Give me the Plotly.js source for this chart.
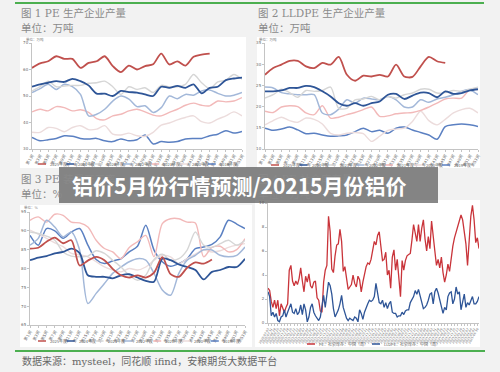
<!DOCTYPE html>
<html>
<head>
<meta charset="utf-8">
<script src="https://cdn.plot.ly/plotly-3.0.1.min.js"></script>
<style>html,body{margin:0;padding:0;background:#f2f2f2;}#chart{width:500px;height:372px;}</style>
</head>
<body>
<div id="chart"></div>
<script>
// ---------- data ----------
const seriesNames = ['2025年度','2024年度','2023年度','2022年度','2021年度','2020年度','2019年度'];
const weekCats = ['第1周','第3周','第5周','第7周','第9周','第11周','第13周','第15周','第17周','第19周','第21周','第23周','第25周','第27周','第29周','第31周','第33周','第35周','第37周','第39周','第41周','第43周','第45周','第47周','第49周','第51周','第53周'];

// 图1 PE 生产企业产量 (万吨)
const p1_2025 = [60.6,62.3,63.1,65,64,64,60.6,62.5,63.1,65,61.3,59,61.5,60,61.3,62,66,61.9,63.1,61.5,64.8,65.6,66];
const p1_2024 = [53.5,54.4,55,55.6,55.3,56.5,55.6,54,50.9,50.9,50,51.9,51.5,51.3,50.6,50,53.5,53.1,53.8,53.1,54.4,51,53.1,53.5,56,56.6,56.9];
const p1_2023 = [51.9,53.5,55.6,53.5,53.8,54,54,54.8,55,55.6,53.5,50.6,53.5,52.5,53.1,51.3,54,53.5,53.5,54.4,58.1,55,52.8,55.3,56,58.1,56.3];
const p1_2022 = [51.3,52.8,54.4,52.5,54.4,53.5,50.6,42.5,43.1,45,48.1,50,48.8,46,46.3,43.8,45.6,50,49,50.6,50.3,51.9,52.3,51,50,50.3,51.3];
const p1_2021 = [44,45,44.4,46,45.6,44.4,44.8,43.8,41.5,41,42.5,43.1,44.4,45,44,42.8,42.5,43.8,45,46.5,47.3,46.5,46.3,48.1,47.8,48.1,49.4];
const p1_2020 = [36.3,36.3,38.1,37.8,36.5,38.1,38.8,37.3,37.5,38.8,35.6,35.3,36,35,34.8,36.3,39,39.8,41,41.9,42.5,40.3,39.8,41.3,42.5,44,42.5];
const p1_2019 = [34.4,33.1,33.5,34,35,34.8,34,33.8,34,33.1,32.8,33.8,33.1,33.5,35.3,31.9,32.8,32.5,32.8,33.8,34,34,35,35.6,36.9,36,36.6];

// 图2 LLDPE 生产企业产量 (万吨)
const p2_2025 = [27.5,29.1,29.9,30.8,30.8,29.5,29.1,30.3,29.9,31.7,27.5,26.1,27.3,27.1,27.5,27.1,29.9,27.1,27,29.5,31.7,30.7,30.3];
const p2_2024 = [23.6,23.6,23.8,24.4,24.4,24.9,24.6,23.6,22.4,20.8,20.2,20.8,20.2,20.8,21.2,22.8,23,21.8,22.6,23.3,23.2,22.2,23.6,23,23.2,23.8,24.1];
const p2_2023 = [22,22.8,24.1,23.3,22.2,23.8,23.6,23.8,24.6,19.6,19.6,21.6,21.8,22.4,21.6,22.4,22,22.8,23.2,24.1,24.1,23.2,23.3,23.8,23.6,24.1,24.6];
const p2_2022 = [24.6,24.4,23.3,23,22.8,22.8,22.8,18.5,18.1,19.4,21.6,20.8,22,21.8,21.6,22.4,21.6,19.9,19.9,21.6,21,21.8,22.2,22.8,23.6,24,22.8];
const p2_2021 = [18.9,18.6,19.9,20.2,20,18.5,18.1,20.2,17.3,17.5,18.1,18.6,19.3,19.9,17.7,17.8,18.3,18.5,18.6,19.1,19.9,20.8,21.8,22,22,24,24];
const p2_2020 = [15.7,16.7,17.5,16.7,16.3,17.3,17,15.9,13.7,13.3,13.7,13.9,13.6,11.8,13,14.4,14.7,14.9,16.5,18.9,16.7,15.7,17,18.5,19.3,19.6,18.5];
const p2_2019 = [14.9,14.4,14.7,15.2,14.5,13.6,13.7,13.3,13,13.1,13.3,14.1,14.9,14.1,14.4,13.7,14.9,15.2,14.5,13.9,13.3,12.3,15.3,15.7,15.9,15.7,15.3];

// 图3 PE 装置开工率 (%)
const p3_2025 = [85.3,85.5,87.1,88.2,86.7,87.5,80.8,82.1,83.1,82.2,79.9,78.2,77.6,78.2,77.6,78.9,83,78.5,77.8,80.2,81.6,81.3,82.4];
const p3_2024 = [82.2,82.9,83.3,84,84.4,85.3,84.1,78.2,77.8,77.8,77.4,78.2,78.5,77.6,76.7,76.5,82.6,82.2,81.1,80.4,79.6,77.1,79.1,79.6,80.4,80.4,82.6];
const p3_2023 = [89.7,89.3,88.6,87.5,84.4,83.3,83.1,83.3,84.7,84,82.2,80.4,78.2,76.9,78.2,82.4,83.8,82.2,82.6,84.9,89.7,86.2,85.6,86.6,87.5,86.2,87.5];
const p3_2022 = [86.2,88,92.8,91,88.4,89.7,84.9,70.7,73.4,76,78.7,80.4,81.8,82.6,82.2,78.7,74.3,72.9,78.7,82.2,83.5,85,84.9,83.5,83.1,83.5,85.7];
const p3_2021 = [92.8,93.7,92.3,94.4,94.1,92.3,92.1,91,87.5,85.3,84.4,82.6,85.6,87.1,88.8,83.1,91.9,93.2,93.2,92.3,92.1,83.1,85.6,85.9,84.4,85,87.9];
const p3_2020 = [90.2,89.1,88,86.8,85.8,84,83.6,83.1,81.8,80.4,79.6,79.1,80,79.6,80.4,82.2,83.5,83.1,81.3,82.6,83.8,84.9,84.4,84.7,85.6,86.2,86.6];
const p3_2019 = [88.8,86.2,90.6,90,88,89.7,90.6,86.2,82.4,81.3,82,82.6,84.4,85.9,91.5,84.9,81.8,80.6,81.3,82.6,85.3,85.7,86.4,88.4,92.8,91.8,90.6];

// 图4 库存 (万吨), biweekly
const p4Names = ['PE：社会库存：中国（周）','LLDPE：社会库存：中国（周）'];
const p4_pe = [2.9,2.7,1.8,1.3,1.9,1.2,1.9,0.6,1.6,1.3,0.9,1.3,1.6,4.4,4.8,3.5,3.1,3.5,3.2,3.7,4.6,3.5,2.6,3.9,3.4,4.1,3.1,2.9,3.4,3.5,2.1,1.9,1.0,0.9,3.4,4.4,4.8,8.9,7.6,4.5,4.2,5.6,6.5,6.6,7.8,6.8,4.3,4.7,3.8,2.8,3.0,3.2,4.0,3.3,3.0,3.9,3.6,2.6,3.4,4.0,4.7,5.0,4.9,5.3,6.2,6.8,6.5,7.3,7.6,6.2,5.2,5.3,5.9,4.0,4.4,2.9,5.5,6.1,4.4,5.3,4.0,2.2,5.2,4.4,5.2,5.6,5.7,5.8,6.9,8.2,7.5,6.8,8.2,6.8,7.9,8.6,7.0,6.0,7.2,6.2,8.5,6.9,6.0,4.8,5.3,4.6,5.5,4.2,3.4,4.0,4.9,4.3,5.5,6.4,7.1,7.6,8.0,8.5,9.0,8.6,7.5,6.6,4.8,6.8,8.9,9.8,8.6,6.7,7.1,6.2];
const p4_lldpe = [2.6,2.2,0.6,0.9,0.5,0.8,0.2,0.1,0.5,0.6,1.1,0.5,0.9,1.2,1.6,0.9,0.8,1.2,0.7,0.9,1.5,0.7,1.6,1.1,0.1,0.5,1.3,1.6,0.9,0.6,0.4,0.2,0.5,1.3,2.3,1.3,2.6,3.4,3.1,2.4,1.2,0.5,0.8,1.1,1.6,2.3,1.3,0.9,0.4,0.2,0.4,0.3,0.2,0.5,0.4,0.1,1.1,0.8,0.3,0.9,1.3,1.6,1.9,1.8,1.9,2.2,3.3,2.4,1.7,1.6,1.9,1.3,1.7,1.2,1.6,1.8,0.9,0.8,0.8,0.5,0.6,0.6,0.9,0.7,1.0,1.1,1.1,1.7,1.9,2.2,2.7,2.4,2.8,2.2,1.6,1.2,1.3,1.5,1.9,2.4,2.5,1.6,2.6,2.9,2.5,1.9,1.3,0.8,1.3,1.1,2.2,2.5,2.6,1.6,2.0,3.0,2.4,2.6,1.1,1.9,2.4,1.3,1.7,1.5,1.9,2.2,1.6,1.6,1.8,2.2];
const p4Start = '2020-07-03';

// ---------- styling ----------
const yearColors = ['#c0504d','#2e5597','#d6d6d6','#a3b8d9','#f2b9b9','#ecdcdc','#5b80c2'];
const yearWidths = [1.8,1.8,1.4,1.5,1.4,1.4,1.5];
const W = 500, H = 372;
const px = x => x / W;
const py = y => 1 - y / H;

const traces = [];
const shapes = [];
const annotations = [];

function addYearTraces(n, arrays) {
  for (let i = arrays.length - 1; i >= 0; i--) {
    traces.push({
      type: 'scatter', mode: 'lines', name: seriesNames[i],
      x: weekCats.slice(0, arrays[i].length), y: arrays[i],
      xaxis: 'x' + (n === 1 ? '' : n), yaxis: 'y' + (n === 1 ? '' : n),
      line: {color: yearColors[i], width: yearWidths[i], shape: 'spline', smoothing: 0.8},
      showlegend: false, hoverinfo: 'skip'
    });
  }
}
addYearTraces(1, [p1_2025,p1_2024,p1_2023,p1_2022,p1_2021,p1_2020,p1_2019]);
addYearTraces(2, [p2_2025,p2_2024,p2_2023,p2_2022,p2_2021,p2_2020,p2_2019]);
addYearTraces(3, [p3_2025,p3_2024,p3_2023,p3_2022,p3_2021,p3_2020,p3_2019]);

// panel 4 date categories (biweekly)
const p4Dates = [];
{
  const d0 = new Date(p4Start + 'T00:00:00Z');
  for (let k = 0; k < p4_pe.length; k++) {
    const d = new Date(d0.getTime() + k * 14 * 86400000);
    p4Dates.push(d.toISOString().slice(0, 10));
  }
}
traces.push({type:'scatter',mode:'lines',name:p4Names[0],x:p4Dates,y:p4_pe,xaxis:'x4',yaxis:'y4',
  line:{color:'#c9343a',width:1.3},showlegend:false,hoverinfo:'skip'});
traces.push({type:'scatter',mode:'lines',name:p4Names[1],x:p4Dates,y:p4_lldpe,xaxis:'x4',yaxis:'y4',
  line:{color:'#2e5597',width:1.3},showlegend:false,hoverinfo:'skip'});

function xAx(dom, anchor, nCats) {
  return {domain: dom, anchor: anchor, type: 'category', range: [0, nCats - 1],
    tickangle: -60, tickfont: {size: 4, color: '#666', family: 'DejaVu Sans'},
    showline: true, linecolor: '#c4c4c4', linewidth: 1, ticks: 'outside', ticklen: 2, tickcolor: '#c4c4c4',
    showgrid: false, zeroline: false, fixedrange: true};
}
function yAx(dom, anchor, range, dtick) {
  return {domain: dom, anchor: anchor, range: range, tick0: range[0], dtick: dtick,
    tickfont: {size: 4, color: '#666', family: 'DejaVu Sans'},
    showline: true, linecolor: '#c4c4c4', linewidth: 1, ticks: 'outside', ticklen: 2, tickcolor: '#c4c4c4',
    showgrid: false, zeroline: false, fixedrange: true};
}

// panels (pixel boxes)
const P1 = {x0: 32, x1: 242, y0: 43, y1: 149};
const P2 = {x0: 265, x1: 478, y0: 43, y1: 149};
const P3 = {x0: 30, x1: 245, y0: 212, y1: 325};
const P4 = {x0: 268, x1: 479, y0: 203, y1: 323};
const dx = P => [px(P.x0), px(P.x1)];
const dy = P => [py(P.y1), py(P.y0)];

// white panel backgrounds
[[20,37,246,168],[257,37,480,168],[20,205,252,347],[255,200,480,347]].forEach(b => {
  shapes.push({type:'rect', xref:'paper', yref:'paper', layer:'below',
    x0:px(b[0]), x1:px(b[2]), y0:py(b[3]), y1:py(b[1]), fillcolor:'#ffffff', line:{width:0}});
});
// green rules
shapes.push({type:'line', xref:'paper', yref:'paper', x0:px(15), x1:px(484), y0:py(3), y1:py(3), line:{color:'#4caf50', width:2}});
shapes.push({type:'line', xref:'paper', yref:'paper', x0:px(15), x1:px(485), y0:py(351), y1:py(351), line:{color:'#4caf50', width:2}});

// titles
function txt(x, y, s, size, color, anchor, extra) {
  annotations.push(Object.assign({xref:'paper', yref:'paper', x:px(x), y:py(y), text:s, showarrow:false,
    xanchor: anchor || 'left', yanchor:'middle',
    font:{size:size, color:color, family:'DejaVu Serif, Noto Sans CJK SC'}}, extra || {}));
}
txt(19, 13, '图 1 PE 生产企业产量', 10.5, '#8a8a8a');
txt(19, 28, '单位：万吨', 10.5, '#8a8a8a');
txt(256, 13, '图 2 LLDPE 生产企业产量', 10.5, '#8a8a8a');
txt(256, 28, '单位：万吨', 10.5, '#8a8a8a');
txt(19, 179, '图 3 PE 装置开工率', 10.5, '#8a8a8a');
txt(19, 194, '单位：%', 10.5, '#8a8a8a');
txt(256, 179, '图 4 PE 社会库存量', 10.5, '#8a8a8a');
txt(256, 194, '单位：万吨', 10.5, '#8a8a8a');
// tiny units inside charts
txt(24, 39, '单位：万吨', 3.5, '#777');
txt(257, 39, '单位：万吨', 3.5, '#777');
txt(22, 208, '单位：%', 3.5, '#777');

// legends (manual, small)
function legend(names, colors, x0, step, y) {
  names.forEach((n, i) => {
    const x = x0 + i * step;
    shapes.push({type:'line', xref:'paper', yref:'paper', x0:px(x), x1:px(x + 8), y0:py(y), y1:py(y),
      line:{color:colors[i], width:1.5}});
    annotations.push({xref:'paper', yref:'paper', x:px(x + 10), y:py(y), text:n, showarrow:false,
      xanchor:'left', yanchor:'middle', font:{size:4, color:'#666', family:'Noto Sans CJK SC'}});
  });
}
legend(seriesNames, yearColors, 38, 28.3, 164);
legend(seriesNames, yearColors, 271, 28.5, 165);
legend(seriesNames, yearColors, 38, 28.8, 341);
legend(p4Names, ['#c9343a','#2e5597'], 307, 65, 344);

// footer
txt(20, 361, '数据来源：mysteel，同花顺 ifind，安粮期货大数据平台', 10, '#666');

// overlay banner
shapes.push({type:'rect', xref:'paper', yref:'paper', layer:'above',
  x0:px(59), x1:px(438), y0:py(203), y1:py(167), fillcolor:'rgba(85,85,85,0.7)', line:{width:0}});
annotations.push({xref:'paper', yref:'paper', x:px(239), y:py(185), text:'<b>铝价5月份行情预测/20215月份铝价</b>',
  showarrow:false, xanchor:'center', yanchor:'middle',
  font:{size:21, color:'#ffffff', family:'Noto Sans CJK SC'}});

const layout = {
  width: W, height: H, margin: {l:0, r:0, t:0, b:0},
  paper_bgcolor: '#f2f2f2', plot_bgcolor: 'rgba(0,0,0,0)',
  showlegend: false,
  xaxis: xAx(dx(P1), 'y', weekCats.length),
  yaxis: yAx(dy(P1), 'x', [30, 70], 10),
  xaxis2: xAx(dx(P2), 'y2', weekCats.length),
  yaxis2: yAx(dy(P2), 'x2', [10, 35], 5),
  xaxis3: xAx(dx(P3), 'y3', weekCats.length),
  yaxis3: yAx(dy(P3), 'x3', [65, 95], 5),
  xaxis4: Object.assign(xAx(dx(P4), 'y4', p4Dates.length), {dtick: 2, tick0: 0, tickmode: 'linear', tickfont: {size: 3, color: '#666', family: 'DejaVu Sans'}}),
  yaxis4: yAx(dy(P4), 'x4', [0, 10], 2),
  shapes: shapes,
  annotations: annotations
};

Plotly.newPlot('chart', traces, layout, {staticPlot: true, displayModeBar: false});
</script>
</body>
</html>
